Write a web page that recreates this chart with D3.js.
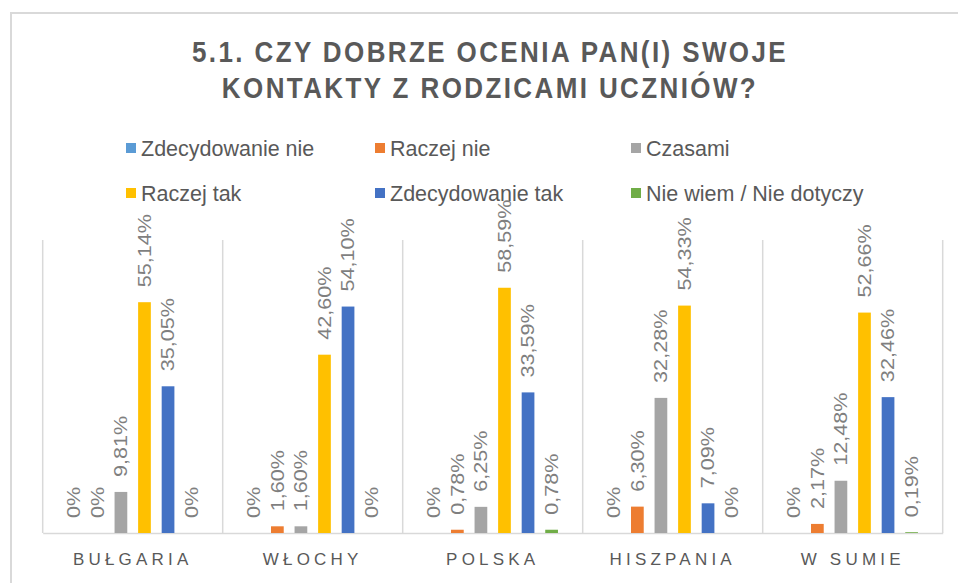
<!DOCTYPE html>
<html>
<head>
<meta charset="utf-8">
<script src="https://cdn.jsdelivr.net/npm/d3@7"></script>
<style>
  html, body { margin: 0; padding: 0; background: #ffffff; }
  svg { display: block; }
</style>
</head>
<body>
<svg id="chart" width="958" height="583"></svg>
<script>
// ---- Data ----
const titleLines = ["5.1. CZY DOBRZE OCENIA PAN(I) SWOJE", "KONTAKTY Z RODZICAMI UCZNIÓW?"];
const categories = ["BUŁGARIA", "WŁOCHY", "POLSKA", "HISZPANIA", "W SUMIE"];
const seriesNames = ["Zdecydowanie nie", "Raczej nie", "Czasami", "Raczej tak", "Zdecydowanie tak", "Nie wiem / Nie dotyczy"];
const seriesColors = ["#5B9BD5", "#ED7D31", "#A5A5A5", "#FFC000", "#4472C4", "#70AD47"];
const zdecydowanieNie = [0, 0, 0, 0, 0];
const raczejNie = [0, 1.60, 0.78, 6.30, 2.17];
const czasami = [9.81, 1.60, 6.25, 32.28, 12.48];
const raczejTak = [55.14, 42.60, 58.59, 54.33, 52.66];
const zdecydowanieTak = [35.05, 54.10, 33.59, 7.09, 32.46];
const nieWiem = [0, 0, 0.78, 0, 0.19];
const seriesValues = [zdecydowanieNie, raczejNie, czasami, raczejTak, zdecydowanieTak, nieWiem];
const yMax = 70;

// ---- Build ----
const svg = d3.select("#chart");
const textGray = "#595959";
const labelGray = "#7f7f7f";
const gridGray = "#d9d9d9";
const font = "'Liberation Sans', Arial, sans-serif";

// outer frame
svg.append("rect")
  .attr("x", 11).attr("y", 13).attr("width", 960).attr("height", 600)
  .attr("fill", "#ffffff").attr("stroke", gridGray).attr("stroke-width", 2);

// title
svg.append("g").selectAll("text").data(titleLines).join("text")
  .attr("transform", (d, i) => `translate(490,${62 + i * 36}) scale(1,1.15)`)
  .attr("text-anchor", "middle")
  .attr("font-family", font).attr("font-size", 26).attr("font-weight", "bold")
  .attr("letter-spacing", 2.4)
  .attr("fill", textGray)
  .text(d => d);

// legend
const legendCols = [126, 375, 631];
const legendRows = [148, 193];
const legend = svg.append("g").selectAll("g").data(seriesNames).join("g")
  .attr("transform", (d, i) => `translate(${legendCols[i % 3]},${legendRows[Math.floor(i / 3)]})`);
legend.append("rect").attr("x", 0).attr("y", -5).attr("width", 10).attr("height", 10)
  .attr("fill", (d, i) => seriesColors[i]);
legend.append("text").attr("x", 15).attr("y", 0).attr("dy", "0.35em")
  .attr("font-family", font).attr("font-size", 21.5).attr("fill", textGray)
  .text(d => d);

// scales
const x0 = d3.scaleBand().domain(categories).range([42.7, 942.7]).padding(0);
const x1 = d3.scaleBand().domain(seriesNames).range([0, x0.bandwidth()]).paddingInner(0.46).paddingOuter(1.05);
const y = d3.scaleLinear().domain([0, yMax]).range([533, 240]);

// vertical category separators
const seps = categories.map(c => x0(c)).concat([x0.range()[1]]);
svg.append("g").selectAll("line").data(seps).join("line")
  .attr("x1", d => d).attr("x2", d => d)
  .attr("y1", y(yMax)).attr("y2", y(0))
  .attr("stroke", gridGray).attr("stroke-width", 1.5);

// x axis
const xAxis = svg.append("g").attr("transform", `translate(0,${y(0)})`)
  .call(d3.axisBottom(x0).tickSize(0).tickSizeOuter(0).tickPadding(20));
xAxis.select(".domain").attr("stroke", gridGray).attr("stroke-width", 1.5);
xAxis.selectAll(".tick text")
  .attr("font-family", font).attr("font-size", 17).attr("fill", textGray)
  .attr("letter-spacing", 4.2);

// bars
const groups = svg.append("g").selectAll("g").data(categories).join("g")
  .attr("transform", c => `translate(${x0(c)},0)`);

const fmt = v => v === 0 ? "0%" : v.toFixed(2).replace(".", ",") + "%";

groups.selectAll("rect").data((c, ci) => seriesNames.map((s, si) => ({ s, si, v: seriesValues[si][ci] })))
  .join("rect")
  .attr("x", d => x1(d.s)).attr("width", x1.bandwidth())
  .attr("y", d => y(d.v)).attr("height", d => y(0) - y(d.v))
  .attr("fill", d => seriesColors[d.si]);

groups.selectAll("text").data((c, ci) => seriesNames.map((s, si) => ({ s, si, v: seriesValues[si][ci] })))
  .join("text")
  .attr("transform", d => `translate(${x1(d.s) + x1.bandwidth() / 2},${y(d.v) - 15}) rotate(-90) scale(1.2,1)`)
  .attr("dy", "0.35em")
  .attr("text-anchor", "start")
  .attr("font-family", font).attr("font-size", 18).attr("fill", labelGray)
  .text(d => fmt(d.v));
</script>
</body>
</html>
